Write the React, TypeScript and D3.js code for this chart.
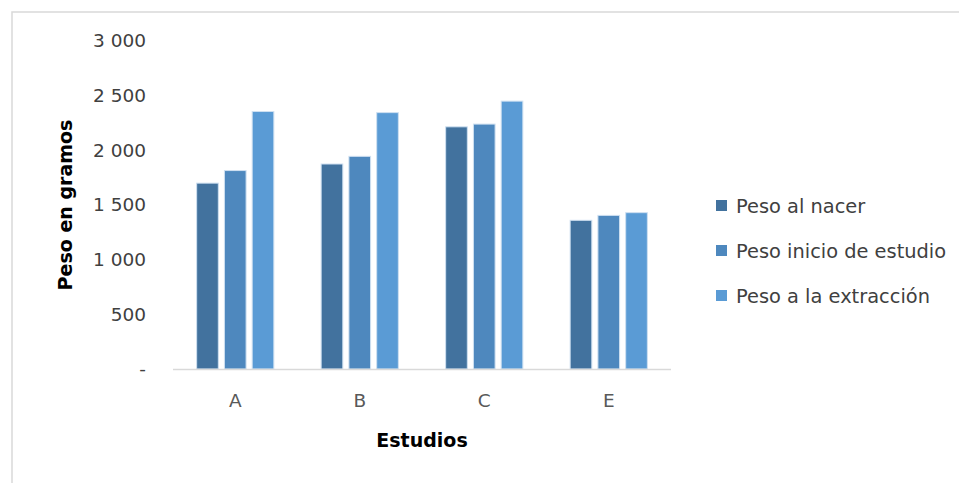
import React from "react";
import * as d3 from "d3";

const categories = ["A", "B", "C", "E"];
const seriesNames = ["Peso al nacer", "Peso inicio de estudio", "Peso a la extracción"];
const pesoAlNacer = [1700, 1875, 2215, 1360];
const pesoInicio = [1815, 1945, 2240, 1405];
const pesoExtraccion = [2355, 2345, 2450, 1430];
const yTicks = [0, 500, 1000, 1500, 2000, 2500, 3000];
const colors = ["#42729E", "#4E88BE", "#5A9BD5"];

const W = 959, H = 483;
const FONT = "DejaVu Sans, sans-serif";

export default function App() {
  const series = [pesoAlNacer, pesoInicio, pesoExtraccion];
  const x = d3.scaleBand<string>().domain(categories).range([173, 671]).paddingInner(0.38).paddingOuter(0.19);
  const x1 = d3.scaleBand<number>().domain([0, 1, 2]).range([0, x.bandwidth()]).paddingInner(0.22);
  const y = d3.scaleLinear().domain([0, 3000]).range([369, 41]);
  const fmt = (v: number) => (v === 0 ? "-" : d3.format(",")(v).replace(/,/g, " "));

  return (
    <svg width={W} height={H} style={{ position: "absolute", left: 0, top: 0, background: "#fff" }}>
      <rect x={12} y={12} width={W} height={H} fill="#fff" stroke="#d9d9d9" strokeWidth={1.5} />
      {yTicks.map((t) => (
        <text key={t} x={146} y={y(t)} dy="0.35em" textAnchor="end" fontFamily={FONT} fontSize={18.5} fill="#404040">
          {fmt(t)}
        </text>
      ))}
      {categories.map((c, i) =>
        series.map((s, j) => (
          <rect
            key={c + j}
            x={(x(c) as number) + (x1(j) as number)}
            y={y(s[i])}
            width={x1.bandwidth()}
            height={y(0) - y(s[i])}
            fill={colors[j]}
            stroke="#cfe0f1"
            strokeWidth={1}
          />
        ))
      )}
      <line x1={173} x2={671} y1={y(0) + 0.5} y2={y(0) + 0.5} stroke="#d9d9d9" strokeWidth={1.5} />
      {categories.map((c) => (
        <text key={c} x={(x(c) as number) + x.bandwidth() / 2} y={401} dy="0.35em" textAnchor="middle" fontFamily={FONT} fontSize={18.5} fill="#595959">
          {c}
        </text>
      ))}
      <text x={422} y={440} dy="0.35em" textAnchor="middle" fontFamily={FONT} fontSize={19} fontWeight="bold" fill="#000">
        Estudios
      </text>
      <text transform="translate(65,205) rotate(-90)" dy="0.35em" textAnchor="middle" fontFamily={FONT} fontSize={19} fontWeight="bold" fill="#000">
        Peso en gramos
      </text>
      {seriesNames.map((n, j) => (
        <g key={n} transform={`translate(716,${206 + j * 45})`}>
          <rect x={0} y={-6} width={11} height={11} fill={colors[j]} />
          <text x={20} y={0} dy="0.35em" fontFamily={FONT} fontSize={19.4} fill="#404040">
            {n}
          </text>
        </g>
      ))}
    </svg>
  );
}
